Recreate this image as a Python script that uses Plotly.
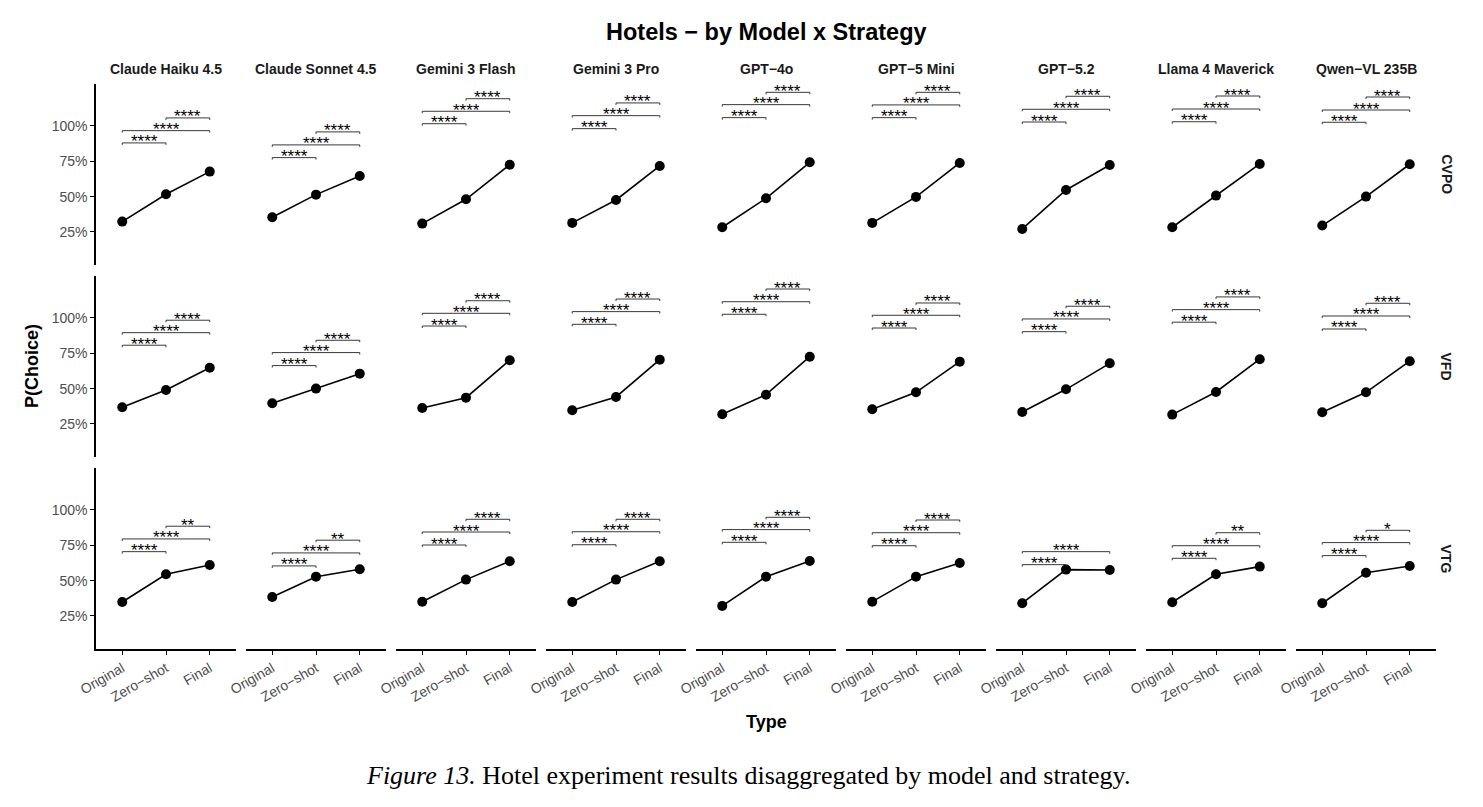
import plotly.graph_objects as go

# ---------------- data ----------------
models = ["Claude Haiku 4.5", "Claude Sonnet 4.5", "Gemini 3 Flash", "Gemini 3 Pro",
          "GPT−4o", "GPT−5 Mini", "GPT−5.2", "Llama 4 Maverick", "Qwen−VL 235B"]
strategies = ["CVPO", "VFD", "VTG"]
types = ["Original", "Zero−shot", "Final"]
y_tick_vals = [25, 50, 75, 100]
y_tick_text = ["25%", "50%", "75%", "100%"]

cvpo_original = [32.3, 35.4, 30.9, 31.4, 28.3, 31.4, 27.1, 28.3, 29.5]
cvpo_zeroshot = [51.7, 51.4, 48.1, 47.6, 48.8, 49.8, 54.7, 50.7, 50.0]
cvpo_final = [67.7, 64.6, 72.6, 71.7, 74.3, 73.8, 72.4, 73.1, 72.9]

vfd_original = [36.8, 39.6, 36.3, 34.7, 31.9, 35.4, 33.5, 31.6, 33.3]
vfd_zeroshot = [49.0, 50.0, 43.6, 44.1, 45.7, 47.4, 49.5, 47.6, 47.4]
vfd_final = [64.8, 60.6, 70.1, 70.5, 72.6, 69.1, 67.9, 70.8, 69.4]

vtg_original = [34.9, 38.4, 35.1, 34.9, 32.1, 35.1, 34.0, 34.7, 34.0]
vtg_zeroshot = [54.5, 52.8, 50.7, 50.7, 52.8, 52.8, 57.8, 54.5, 55.6]
vtg_final = [61.1, 58.0, 63.7, 63.7, 63.9, 62.5, 57.5, 59.9, 60.4]

# significance brackets: height (P(Choice) %) and label, per comparison
cvpo_br_orig_zero = [88.0, 77.6, 101.6, 98.1, 105.9, 105.9, 102.8, 103.0, 102.6]
cvpo_br_orig_final = [96.7, 86.6, 110.4, 107.3, 115.1, 114.9, 111.8, 112.0, 111.3]
cvpo_br_zero_final = [105.7, 95.8, 119.3, 116.3, 123.8, 123.8, 121.0, 121.2, 120.5]
cvpo_lab_orig_zero = ["****"] * 9
cvpo_lab_orig_final = ["****"] * 9
cvpo_lab_zero_final = ["****"] * 9

vfd_br_orig_zero = [80.7, 66.3, 94.3, 95.5, 102.6, 92.9, 90.3, 97.0, 92.2]
vfd_br_orig_final = [89.6, 75.5, 103.3, 104.5, 111.5, 101.9, 99.3, 105.9, 101.4]
vfd_br_zero_final = [98.4, 84.2, 112.2, 113.4, 120.5, 110.6, 108.3, 114.9, 110.4]
vfd_lab_orig_zero = ["****"] * 9
vfd_lab_orig_final = ["****"] * 9
vfd_lab_zero_final = ["****"] * 9

vtg_br_orig_zero = [70.5, 60.4, 75.2, 75.4, 77.1, 74.7, 61.3, 65.8, 67.7]
vtg_br_orig_final = [79.5, 69.6, 84.4, 84.6, 86.1, 83.9, 70.5, 74.7, 76.9]
vtg_br_zero_final = [88.5, 78.6, 93.4, 93.4, 94.8, 92.9, None, 83.9, 85.6]
vtg_lab_orig_zero = ["****"] * 9
vtg_lab_orig_final = ["****"] * 9
vtg_lab_zero_final = ["**", "**", "****", "****", "****", "****", "", "**", "*"]

series = {
    "CVPO": (cvpo_original, cvpo_zeroshot, cvpo_final),
    "VFD": (vfd_original, vfd_zeroshot, vfd_final),
    "VTG": (vtg_original, vtg_zeroshot, vtg_final),
}
brackets = {
    "CVPO": [((1, 2), cvpo_br_orig_zero, cvpo_lab_orig_zero),
             ((1, 3), cvpo_br_orig_final, cvpo_lab_orig_final),
             ((2, 3), cvpo_br_zero_final, cvpo_lab_zero_final)],
    "VFD": [((1, 2), vfd_br_orig_zero, vfd_lab_orig_zero),
            ((1, 3), vfd_br_orig_final, vfd_lab_orig_final),
            ((2, 3), vfd_br_zero_final, vfd_lab_zero_final)],
    "VTG": [((1, 2), vtg_br_orig_zero, vtg_lab_orig_zero),
            ((1, 3), vtg_br_orig_final, vtg_lab_orig_final),
            ((2, 3), vtg_br_zero_final, vtg_lab_zero_final)],
}

# ---------------- layout geometry ----------------
W, H = 1483, 807
SANS = "Liberation Sans, Arial, sans-serif"
x_left0, panel_w, col_step = 96, 140, 150
y_top0, panel_h, row_step = 84, 181, 192
y_range = [1.6, 129.7]
x_range = [0.4, 3.6]
tick_dy = 1.4

fig = go.Figure()
layout = dict(
    width=W, height=H,
    margin=dict(l=0, r=0, t=0, b=0, autoexpand=False),
    paper_bgcolor="white", plot_bgcolor="white",
    showlegend=False,
    font=dict(family=SANS, color="black"),
)
annotations = []

for r, strat in enumerate(strategies):
    orig, zero, fin = series[strat]
    for c, model in enumerate(models):
        k = r * 9 + c + 1
        xa = "x" if k == 1 else f"x{k}"
        ya = "y" if k == 1 else f"y{k}"
        x0 = (x_left0 + c * col_step) / W
        x1 = (x_left0 + c * col_step + panel_w) / W
        top = y_top0 + r * row_step
        y1 = 1 - top / H
        y0 = 1 - (top + panel_h) / H
        bottom_row = (r == len(strategies) - 1)
        first_col = (c == 0)
        layout[f"xaxis{k if k > 1 else ''}"] = dict(
            domain=[x0, x1], anchor=ya, range=x_range, automargin=False,
            tickmode="array", tickvals=[1, 2, 3], ticktext=types,
            showticklabels=bottom_row, showline=bottom_row,
            ticks="outside" if bottom_row else "", ticklen=4, tickwidth=1.3,
            tickcolor="black", linecolor="black", linewidth=1.5,
            tickangle=-30, tickfont=dict(family=SANS, size=14, color="#4D4D4D"),
            showgrid=False, zeroline=False, fixedrange=True,
        )
        layout[f"yaxis{k if k > 1 else ''}"] = dict(
            domain=[y0, y1], anchor=xa, range=y_range, automargin=False,
            tickmode="array", tickvals=y_tick_vals, ticktext=y_tick_text,
            showticklabels=first_col, showline=first_col,
            ticks="outside" if first_col else "", ticklen=4, tickwidth=1.3,
            tickcolor="black", linecolor="black", linewidth=1.5,
            tickfont=dict(family=SANS, size=14, color="#4D4D4D"),
            showgrid=False, zeroline=False, fixedrange=True,
        )

        # main line + points
        fig.add_trace(go.Scatter(
            x=[1, 2, 3], y=[orig[c], zero[c], fin[c]],
            mode="lines+markers", xaxis=xa, yaxis=ya,
            line=dict(color="black", width=1.6),
            marker=dict(color="black", size=10),
            hoverinfo="skip",
        ))

        # significance brackets
        bx, by = [], []
        for (a, b), heights, labels in brackets[strat]:
            h = heights[c]
            if h is None:
                continue
            bx += [a, a, b, b, None]
            by += [h - tick_dy, h, h, h - tick_dy, None]
            annotations.append(dict(
                text=labels[c], x=(a + b) / 2, y=h, xref=xa, yref=ya,
                xanchor="center", yanchor="middle", yshift=1, showarrow=False,
                font=dict(family=SANS, size=17, color="black"),
            ))
        fig.add_trace(go.Scatter(
            x=bx, y=by, mode="lines", xaxis=xa, yaxis=ya,
            line=dict(color="#222222", width=0.9), hoverinfo="skip",
        ))

        # facet title (top row only)
        if r == 0:
            annotations.append(dict(
                text=model, x=(x0 + x1) / 2, y=1 - 69 / H, xref="paper", yref="paper",
                xanchor="center", yanchor="middle", showarrow=False,
                font=dict(family=SANS, size=14, color="#1A1A1A", weight="bold"),
            ))

    # row strip label
    annotations.append(dict(
        text=strat, x=1446 / W, y=1 - (y_top0 + r * row_step + panel_h / 2) / H,
        xref="paper", yref="paper", xanchor="center", yanchor="middle",
        textangle=90, showarrow=False,
        font=dict(family=SANS, size=14, color="#1A1A1A", weight="bold"),
    ))

# titles
annotations.append(dict(
    text="Hotels − by Model x Strategy", x=766 / W, y=1 - 32 / H,
    xref="paper", yref="paper", xanchor="center", yanchor="middle", showarrow=False,
    font=dict(family=SANS, size=23.5, color="black", weight="bold"),
))
annotations.append(dict(
    text="P(Choice)", x=32 / W, y=1 - 366 / H, xref="paper", yref="paper",
    xanchor="center", yanchor="middle", textangle=-90, showarrow=False,
    font=dict(family=SANS, size=18, color="black", weight="bold"),
))
annotations.append(dict(
    text="Type", x=766 / W, y=1 - 722 / H, xref="paper", yref="paper",
    xanchor="center", yanchor="middle", showarrow=False,
    font=dict(family=SANS, size=18, color="black", weight="bold"),
))
annotations.append(dict(
    text="<i>Figure 13.</i> Hotel experiment results disaggregated by model and strategy.",
    x=748 / W, y=1 - 775 / H, xref="paper", yref="paper",
    xanchor="center", yanchor="middle", showarrow=False,
    font=dict(family="Liberation Serif, Times New Roman, serif", size=26, color="black"),
))

layout["annotations"] = annotations
fig.update_layout(**layout)
fig.write_html("out.html")
